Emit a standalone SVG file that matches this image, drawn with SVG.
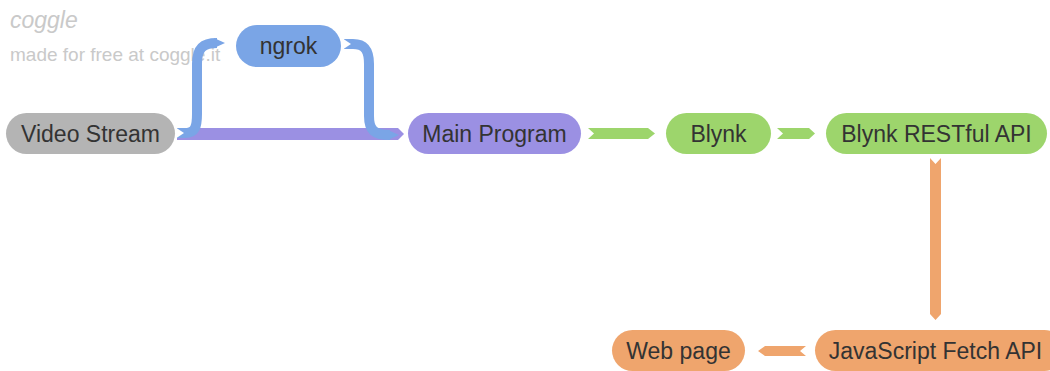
<svg xmlns="http://www.w3.org/2000/svg" width="1050" height="371" viewBox="0 0 1050 371">
<style>
.n text{font-family:"Liberation Sans",Arial,sans-serif;font-size:23px;fill:#333;text-anchor:middle;dominant-baseline:central}
.gray{fill:#b4b4b4}.blue{fill:#7aa5e6}.purple{fill:#9b90e3}.green{fill:#9dd56c}.orange{fill:#efa56d}
.logo{font-family:"Liberation Sans",Arial,sans-serif;fill:#c9c9c9}
</style>
<rect width="1050" height="371" fill="#fff"/>
<text class="logo" x="10" y="28" font-size="23" font-style="italic" font-family="'DejaVu Serif',serif">coggle</text>
<text class="logo" x="10" y="61" font-size="19">made for free at coggle.it</text>
<g id="connectors">
<polygon class="purple" points="177,128 398,128 404,134 398,140 177,140"/>
<path d="M177,133 L185,133 C195,133 197,127 197,114 L197,64 C197,48 203,43 217,43" fill="none" stroke="#7aa5e6" stroke-width="10"/>
<polygon class="blue" points="214,38 225,43 214,48"/>
<polygon fill="#fff" points="175,127 184,133 175,139"/>
<path d="M344,44 L353,44 C366,44 369,52 369,64 L369,116 C369,130 374,135 390,135" fill="none" stroke="#7aa5e6" stroke-width="10"/>
<polygon class="blue" points="388,130 399,135 388,140"/>
<polygon fill="#fff" points="342,38 351,44 342,50"/>
<polygon class="green" points="588,128 648,128 655,133.5 648,139 588,139 594,133.5"/>
<polygon class="green" points="777,128 809,128 815,133.5 809,139 777,139 783,133.5"/>
<polygon class="orange" points="930,158 935.5,164 941,158 941,314 935.5,320 930,314"/>
<polygon class="orange" points="806,346 800,351 806,356 765,356 758,351 765,346"/>
</g>
<g id="video-stream" class="n"><rect class="gray" x="6" y="113" width="169" height="41" rx="20.5"/><text x="90.5" y="133.5">Video Stream</text></g>
<g id="ngrok" class="n"><rect class="blue" x="236" y="25" width="105" height="42" rx="21"/><text x="288.5" y="46">ngrok</text></g>
<g id="main-program" class="n"><rect class="purple" x="408" y="113" width="173" height="41" rx="20.5"/><text x="494.5" y="133.5">Main Program</text></g>
<g id="blynk" class="n"><rect class="green" x="666" y="113" width="105" height="41" rx="20.5"/><text x="718.5" y="133.5">Blynk</text></g>
<g id="blynk-restful-api" class="n"><rect class="green" x="826" y="113" width="221" height="41" rx="20.5"/><text x="936.5" y="133.5">Blynk RESTful API</text></g>
<g id="javascript-fetch-api" class="n"><rect class="orange" x="815" y="330" width="250" height="41" rx="20.5"/><text x="935.5" y="350.5">JavaScript Fetch API</text></g>
<g id="web-page" class="n"><rect class="orange" x="612" y="330" width="133" height="41" rx="20.5"/><text x="678.5" y="350.5">Web page</text></g>
</svg>
